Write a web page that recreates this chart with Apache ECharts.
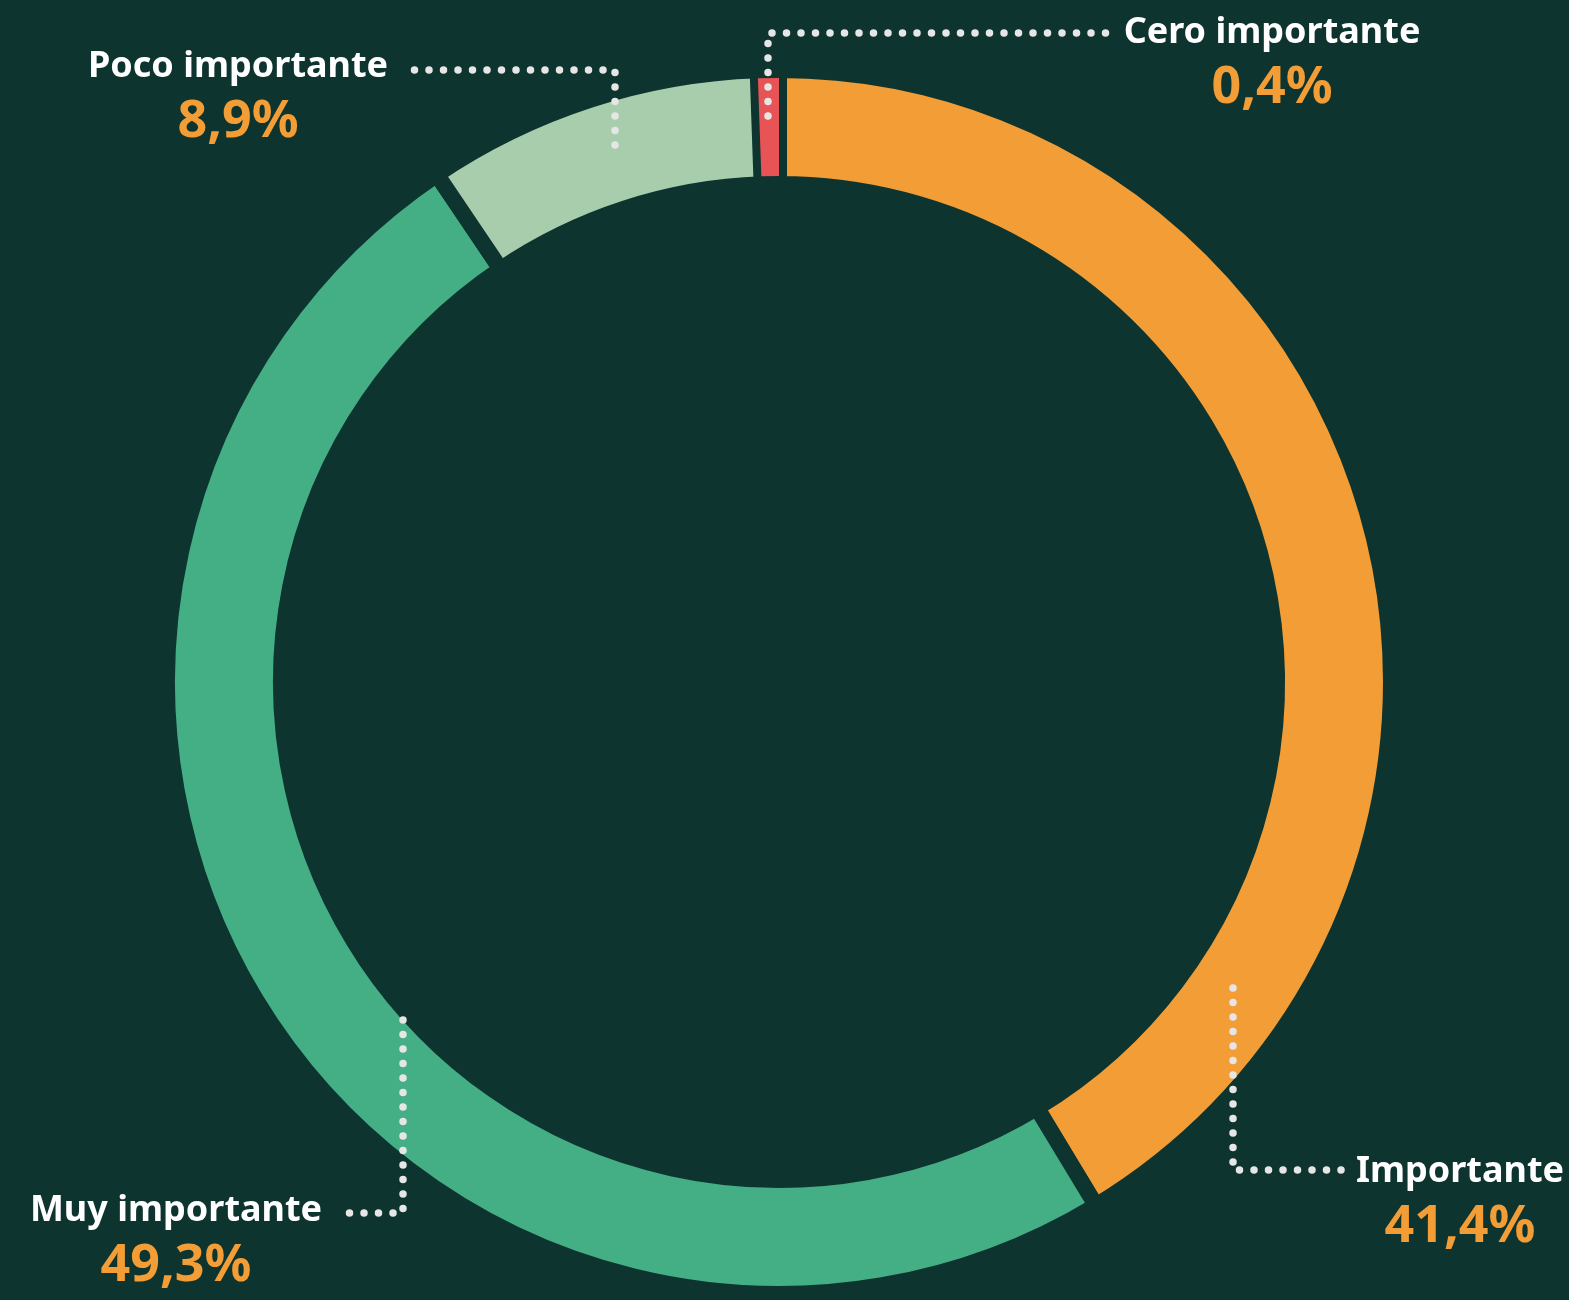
<!DOCTYPE html>
<html>
<head>
<meta charset="utf-8">
<script src="https://cdn.jsdelivr.net/npm/echarts@6/dist/echarts.min.js"></script>
<style>
  html, body { margin: 0; padding: 0; background: #0e3430; }
  #chart { width: 1569px; height: 1300px; }
</style>
</head>
<body>
<div id="chart"></div>
<script>
// datos del gráfico (sentido horario desde arriba)
var categorias = ['Importante', 'Muy importante', 'Poco importante', 'Cero importante'];
var valores = [41.4, 49.3, 8.9, 0.4];
var colores = ['#f29d35', '#44ae85', '#a7cdac', '#e85456'];

// posición de las etiquetas (centro del bloque) y de las líneas guía
var posEtiquetas = [[1460, 1201], [176, 1240], [238, 96], [1272, 62]];
var guias = [
    [[1233, 988], [1233, 1170], [1342, 1170]],
    [[403, 1020], [403, 1213], [336, 1213]],
    [[615, 145], [615, 70], [403, 70]],
    [[768, 116], [768, 33], [1109, 33]]
];

var fondo = '#0e3430';
var centro = [779, 682];

function fmt(v) {
    return v.toFixed(1).replace('.', ',') + '%';
}

var chart = echarts.init(document.getElementById('chart'));

var datosAnillo = categorias.map(function (c, i) {
    var item = { name: c, value: valores[i], itemStyle: { color: colores[i] } };
    if (i === 3) {
        item.itemStyle = { color: 'transparent', borderWidth: 0 };
    }
    return item;
});

// el segmento pequeño va sin borde, en una serie aparte encima
var datosRojo = categorias.map(function (c, i) {
    return {
        name: c, value: valores[i],
        itemStyle: { color: i === 3 ? colores[i] : 'transparent' }
    };
});

var graficos = guias.map(function (pts) {
    return {
        type: 'polyline',
        shape: { points: pts },
        style: {
            stroke: '#e6e6e6',
            lineWidth: 7.5,
            lineDash: [0, 14.5],
            lineCap: 'round',
            fill: null
        },
        z: 100,
        silent: true
    };
});

var option = {
    backgroundColor: fondo,
    animation: false,
    graphic: graficos,
    series: [{
        type: 'pie',
        center: centro,
        radius: [498, 612],
        startAngle: 90,
        minAngle: 2,
        clockwise: true,
        avoidLabelOverlap: false,
        silent: true,
        itemStyle: {
            borderColor: fondo,
            borderWidth: 16
        },
        label: {
            show: true,
            position: 'outside',
            formatter: function (p) {
                return '{n|' + p.name + '}\n{v|' + fmt(p.value) + '}';
            },
            rich: {
                n: {
                    color: '#ffffff',
                    fontFamily: 'Noto Sans',
                    fontWeight: 'bold',
                    fontSize: 36,
                    lineHeight: 52,
                    align: 'center'
                },
                v: {
                    color: '#f29d35',
                    fontFamily: 'Noto Sans',
                    fontWeight: 'bold',
                    fontSize: 52,
                    lineHeight: 58,
                    align: 'center'
                }
            }
        },
        labelLine: { show: false },
        labelLayout: function (params) {
            var p = posEtiquetas[params.dataIndex];
            return { x: p[0], y: p[1], align: 'center', verticalAlign: 'middle' };
        },
        data: datosAnillo
    }, {
        type: 'pie',
        center: centro,
        radius: [506, 604],
        startAngle: 90,
        minAngle: 2,
        clockwise: true,
        silent: true,
        z: 3,
        itemStyle: { borderWidth: 0 },
        label: { show: false },
        labelLine: { show: false },
        data: datosRojo
    }]
};

chart.setOption(option);
</script>
</body>
</html>
